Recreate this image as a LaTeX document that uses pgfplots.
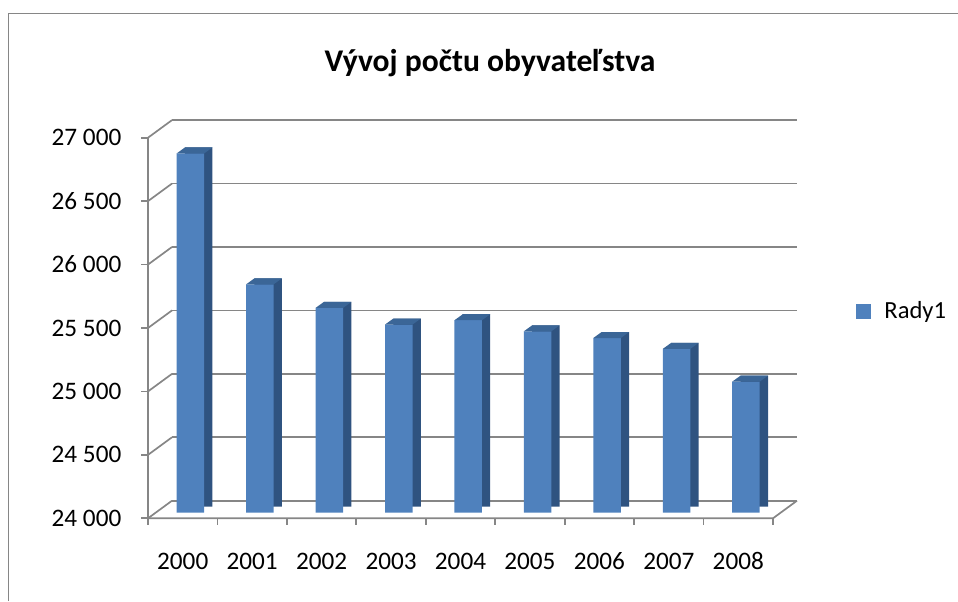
\documentclass[border=0pt]{standalone}
\usepackage{fontspec}
\setmainfont{Carlito}
\usepackage{pgfplots}
\usepackage{pgfplotstable}
\pgfplotsset{compat=1.18}
\definecolor{front}{HTML}{4F81BD}
\definecolor{side}{HTML}{2F5380}
\definecolor{topc}{HTML}{3B6697}
\definecolor{gridc}{HTML}{868686}
\pgfdeclareplotmark{bartop}{%
 \pgfpathmoveto{\pgfqpoint{-6.875pt}{0pt}}%
 \pgfpathlineto{\pgfqpoint{6.875pt}{0pt}}%
 \pgfpathlineto{\pgfqpoint{11.025pt}{3pt}}%
 \pgfpathlineto{\pgfqpoint{-2.725pt}{3pt}}%
 \pgfpathclose
 \pgfusepathqfill}
\pgfplotstableread{
x y
0 26832
1 25800
2 25614
3 25483
4 25517
5 25430
6 25377
7 25291
8 25033
}\datatable
\begin{document}
\begin{tikzpicture}
\path[use as bounding box] (0,0) rectangle (479pt,300.5pt);
\draw[gridc, line width=0.6pt] (4.15pt,0) -- (4.15pt,293.85pt) -- (479pt,293.85pt);
\node[font=\bfseries\fontsize{15.8}{18}\selectfont, anchor=base] at (245pt,264.65pt) {Vývoj počtu obyvateľstva};
\begin{axis}[
  at={(77.85pt,44.15pt)}, anchor=south west,
  scale only axis, width=312.5pt, height=190.3pt,
  xmin=-0.5, xmax=8.5, ymin=24000, ymax=27000,
  clip mode=individual,
  xtick={0,1,2,3,4,5,6,7,8},
  xticklabels={2000,2001,2002,2003,2004,2005,2006,2007,2008},
  ytick={24000,24500,25000,25500,26000,26500,27000},
  scaled y ticks=false,
  axis line style={draw=none},
  major tick length=0pt,
  ymajorgrids,
  major grid style={draw=gridc, line width=0.85pt, xshift=8.15pt, yshift=6pt},
  tick label style={font=\fontsize{12.6}{14}\selectfont, inner sep=0pt},
  yticklabel style={anchor=east, xshift=-17pt, yshift=-2.8pt,
    /pgf/number format/.cd, fixed, precision=0, assume math mode=true, 1000 sep={\kern0.23em}},
  xticklabel style={anchor=center, xshift=-3.85pt, yshift=-24.15pt},
  legend style={draw=none, at={(axis description cs:1.1205,0.528)}, anchor=west,
    inner sep=0pt, font=\fontsize{12.3}{14}\selectfont},
]
\pgfplotsinvokeforeach{24000,24500,25000,25500,26000,26500,27000}{
  \draw[gridc, line width=0.85pt] ([xshift=-3.85pt,yshift=-2.8pt]axis cs:-0.5,#1) -- ([xshift=8.15pt,yshift=6pt]axis cs:-0.5,#1);
  \draw[gridc, line width=0.85pt] ([xshift=-3.85pt,yshift=-2.8pt]axis cs:-0.5,#1) -- ([xshift=-7.35pt,yshift=-2.8pt]axis cs:-0.5,#1);
}
\pgfplotsinvokeforeach{-0.5,0.5,1.5,2.5,3.5,4.5,5.5,6.5,7.5,8.5}{
  \draw[gridc, line width=0.85pt] ([xshift=-3.85pt,yshift=-2.8pt]axis cs:#1,24000) -- ([xshift=-3.85pt,yshift=-6.3pt]axis cs:#1,24000);
}
\draw[gridc, line width=0.85pt] ([xshift=-3.85pt,yshift=-2.8pt]axis cs:-0.5,24000) -- ([xshift=-3.85pt,yshift=-2.8pt]axis cs:-0.5,27000);
\draw[gridc, line width=0.85pt] ([xshift=-3.85pt,yshift=-2.8pt]axis cs:-0.5,24000) -- ([xshift=-3.85pt,yshift=-2.8pt]axis cs:8.5,24000) -- ([xshift=8.15pt,yshift=6pt]axis cs:8.5,24000);
\addplot[ybar, bar width=13.75pt, bar shift=4.15pt, yshift=3pt, fill=side, draw=none, forget plot] table[x=x,y=y]{\datatable};
\addplot[ybar, bar width=13.75pt, bar shift=0pt, fill=front, draw=none,
  legend image code/.code={\fill[front] (0pt,-3.75pt) rectangle (7.5pt,3.75pt); \path (12pt,0pt);}] table[x=x,y=y]{\datatable};
\addlegendentry{Rady1}
\addplot[only marks, mark=bartop, mark options={fill=topc, draw=none}, forget plot] table[x=x,y=y]{\datatable};
\end{axis}
\end{tikzpicture}
\end{document}
